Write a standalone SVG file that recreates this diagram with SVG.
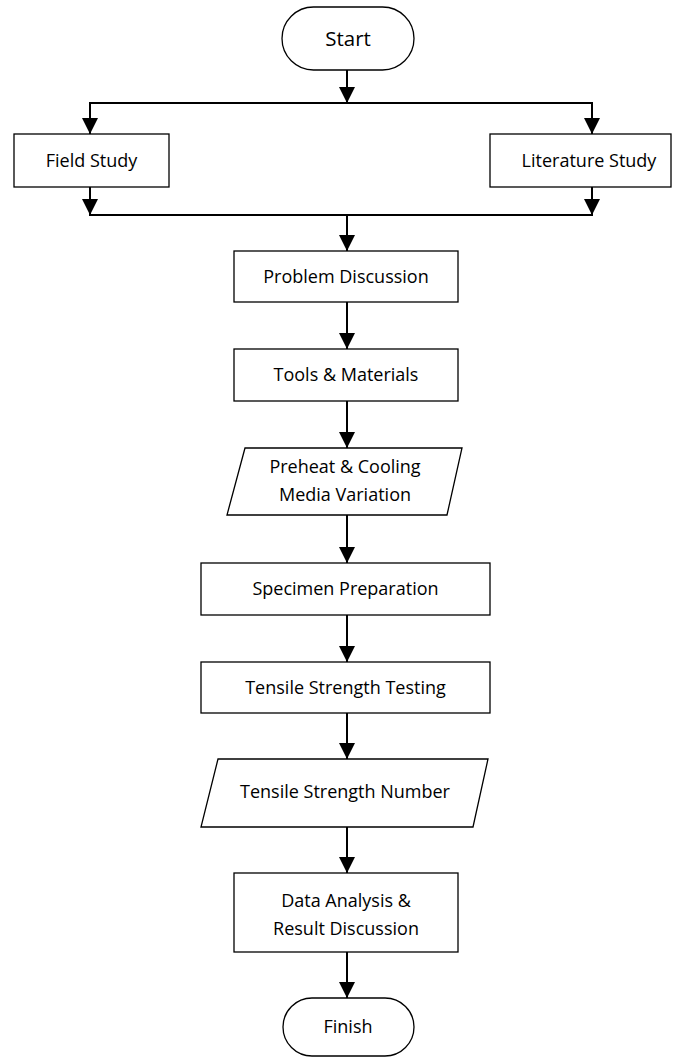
<svg xmlns="http://www.w3.org/2000/svg" width="683" height="1060" viewBox="0 0 683 1060">
<style>
.shape{fill:#fff;stroke:#000;stroke-width:1.3}
.lbl{font-family:"Open Sans","Liberation Sans",sans-serif;font-size:18px;fill:#000;text-anchor:middle;dominant-baseline:central}
.big{font-size:20.5px}
.conn{stroke:#000;stroke-width:2;fill:none}
</style>
<defs>
<marker id="arr" markerUnits="userSpaceOnUse" markerWidth="16" markerHeight="16" refX="16" refY="8" orient="auto" viewBox="0 0 16 16">
<path d="M0,0 L16,8 L0,16 z" fill="#000"/>
</marker>
</defs>
<rect width="683" height="1060" fill="#fff"/>
<g id="connectors">
<line class="conn" x1="347" y1="70" x2="347" y2="103" marker-end="url(#arr)"/>
<line class="conn" x1="89" y1="103" x2="593" y2="103"/>
<line class="conn" x1="90" y1="103" x2="90" y2="134" marker-end="url(#arr)"/>
<line class="conn" x1="592" y1="103" x2="592" y2="134" marker-end="url(#arr)"/>
<line class="conn" x1="90" y1="187" x2="90" y2="215" marker-end="url(#arr)"/>
<line class="conn" x1="592" y1="187" x2="592" y2="215" marker-end="url(#arr)"/>
<line class="conn" x1="89" y1="215" x2="593" y2="215"/>
<line class="conn" x1="347" y1="215" x2="347" y2="251" marker-end="url(#arr)"/>
<line class="conn" x1="347" y1="302" x2="347" y2="349" marker-end="url(#arr)"/>
<line class="conn" x1="347" y1="401" x2="347" y2="448" marker-end="url(#arr)"/>
<line class="conn" x1="347" y1="515" x2="347" y2="563" marker-end="url(#arr)"/>
<line class="conn" x1="347" y1="615" x2="347" y2="662" marker-end="url(#arr)"/>
<line class="conn" x1="347" y1="713" x2="347" y2="759" marker-end="url(#arr)"/>
<line class="conn" x1="347" y1="827" x2="347" y2="873" marker-end="url(#arr)"/>
<line class="conn" x1="347" y1="952" x2="347" y2="998" marker-end="url(#arr)"/>
</g>
<g id="start">
<rect class="shape" x="282" y="7" width="132" height="63" rx="31.5"/>
<text class="lbl big" x="348" y="38">Start</text>
</g>
<g id="field-study">
<rect class="shape" x="14" y="134" width="155" height="53"/>
<text class="lbl" x="91.5" y="160">Field Study</text>
</g>
<g id="literature-study">
<rect class="shape" x="490" y="134" width="181" height="53"/>
<text class="lbl" x="589" y="160">Literature Study</text>
</g>
<g id="problem-discussion">
<rect class="shape" x="234" y="251" width="224" height="51"/>
<text class="lbl" x="346" y="275.5">Problem Discussion</text>
</g>
<g id="tools-materials">
<rect class="shape" x="234" y="349" width="224" height="52"/>
<text class="lbl" x="346" y="374">Tools &amp; Materials</text>
</g>
<g id="preheat">
<polygon class="shape" points="245,448 462,448 447,515 227,515"/>
<text class="lbl" x="345" y="466">Preheat &amp; Cooling</text>
<text class="lbl" x="345" y="494">Media Variation</text>
</g>
<g id="specimen-preparation">
<rect class="shape" x="201" y="563" width="289" height="52"/>
<text class="lbl" x="345.5" y="588">Specimen Preparation</text>
</g>
<g id="tensile-testing">
<rect class="shape" x="201" y="662" width="289" height="51"/>
<text class="lbl" x="345.5" y="686.5">Tensile Strength Testing</text>
</g>
<g id="tensile-number">
<polygon class="shape" points="218,759 488,759 473,827 201,827"/>
<text class="lbl" x="345" y="791">Tensile Strength Number</text>
</g>
<g id="data-analysis">
<rect class="shape" x="234" y="873" width="224" height="79"/>
<text class="lbl" x="346" y="899.5">Data Analysis &amp;</text>
<text class="lbl" x="346" y="927.5">Result Discussion</text>
</g>
<g id="finish">
<rect class="shape" x="283" y="998" width="131" height="58" rx="29"/>
<text class="lbl" x="348" y="1026">Finish</text>
</g>
</svg>
